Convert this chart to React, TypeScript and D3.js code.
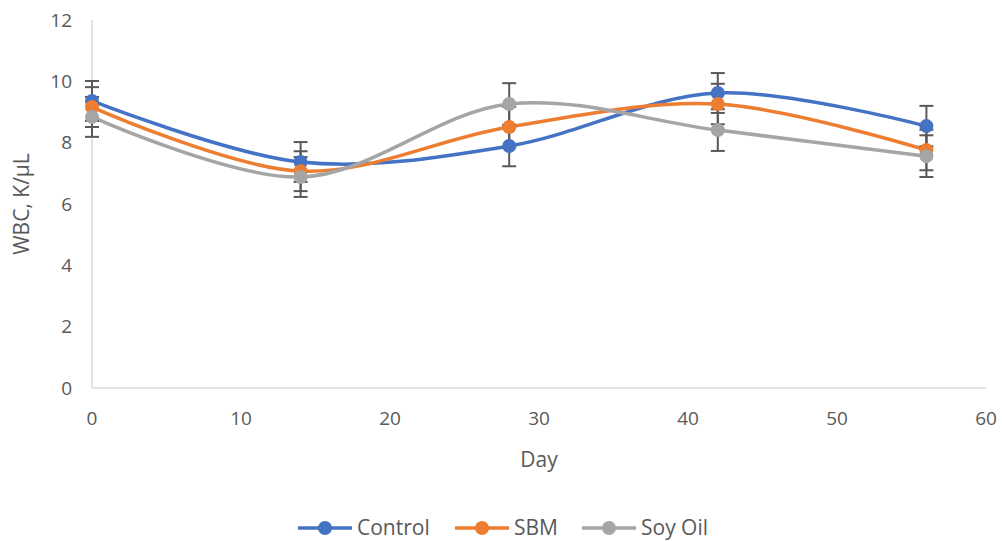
import * as d3 from "d3";

const days = [0, 14, 28, 42, 56];
const control = [9.36, 7.37, 7.89, 9.62, 8.54];
const sbm = [9.16, 7.07, 8.51, 9.26, 7.76];
const soyOil = [8.84, 6.88, 9.26, 8.41, 7.56];
const controlErr = [0.65, 0.65, 0.66, 0.65, 0.66];
const sbmErr = [0.65, 0.65, 0.66, 0.66, 0.66];
const soyOilErr = [0.65, 0.65, 0.68, 0.68, 0.68];
const xTicks = [0, 10, 20, 30, 40, 50, 60];
const yTicks = [0, 2, 4, 6, 8, 10, 12];

const series = [
  { name: "Control", values: control, err: controlErr, color: "#4472C4" },
  { name: "SBM", values: sbm, err: sbmErr, color: "#ED7D31" },
  { name: "Soy Oil", values: soyOil, err: soyOilErr, color: "#A5A5A5" },
];

const W = 1002;
const H = 541;
const font = "'Open Sans', 'Liberation Sans', sans-serif";

export default function App() {
  const x = d3.scaleLinear().domain([0, 60]).range([92, 986]);
  const y = d3.scaleLinear().domain([0, 12]).range([388, 20]);
  const line = d3
    .line<number>()
    .x((_, i) => x(days[i]))
    .y((d) => y(d))
    .curve(d3.curveCatmullRom.alpha(0.5));

  const legendX = [298, 455, 582];

  return (
    <svg
      width={W}
      height={H}
      style={{ position: "absolute", left: 0, top: 0, background: "#fff" }}
      fontFamily={font}
    >
      {/* axes */}
      <line x1={x(0)} x2={x(0)} y1={y(12)} y2={y(0)} stroke="#D9D9D9" strokeWidth={1.5} />
      <line x1={x(0)} x2={x(60)} y1={y(0)} y2={y(0)} stroke="#D9D9D9" strokeWidth={1.5} />
      {yTicks.map((t) => (
        <text key={t} x={72} y={y(t)} dy="0.35em" textAnchor="end" fontSize={19} fill="#595959">
          {t}
        </text>
      ))}
      {xTicks.map((t) => (
        <text key={t} x={x(t)} y={418} dy="0.35em" textAnchor="middle" fontSize={19} fill="#595959">
          {t}
        </text>
      ))}
      <text x={539} y={460} dy="0.35em" textAnchor="middle" fontSize={21} fill="#595959">
        Day
      </text>
      <text
        transform={`translate(22,${y(6)}) rotate(-90)`}
        dy="0.35em"
        textAnchor="middle"
        fontSize={21}
        fill="#595959"
      >
        WBC, K/µL
      </text>

      {/* lines */}
      {series.map((s) => (
        <path key={s.name} d={line(s.values) ?? ""} fill="none" stroke={s.color} strokeWidth={3.5} />
      ))}

      {/* error bars */}
      {series.map((s) =>
        s.values.map((v, i) => {
          const cx = x(days[i]);
          const top = y(v + s.err[i]);
          const bot = y(v - s.err[i]);
          return (
            <g key={s.name + i} stroke="#595959" strokeWidth={2}>
              <line x1={cx} x2={cx} y1={top} y2={bot} />
              <line x1={cx - 7} x2={cx + 7} y1={top} y2={top} />
              <line x1={cx - 7} x2={cx + 7} y1={bot} y2={bot} />
            </g>
          );
        })
      )}

      {/* markers */}
      {series.map((s) =>
        s.values.map((v, i) => (
          <circle key={s.name + "m" + i} cx={x(days[i])} cy={y(v)} r={7} fill={s.color} />
        ))
      )}

      {/* legend */}
      {series.map((s, i) => (
        <g key={s.name} transform={`translate(${legendX[i]},528)`}>
          <line x1={0} x2={54} y1={0} y2={0} stroke={s.color} strokeWidth={3.5} />
          <circle cx={27} cy={0} r={7} fill={s.color} />
          <text x={59} y={0} dy="0.35em" fontSize={21} fill="#595959">
            {s.name}
          </text>
        </g>
      ))}
    </svg>
  );
}
